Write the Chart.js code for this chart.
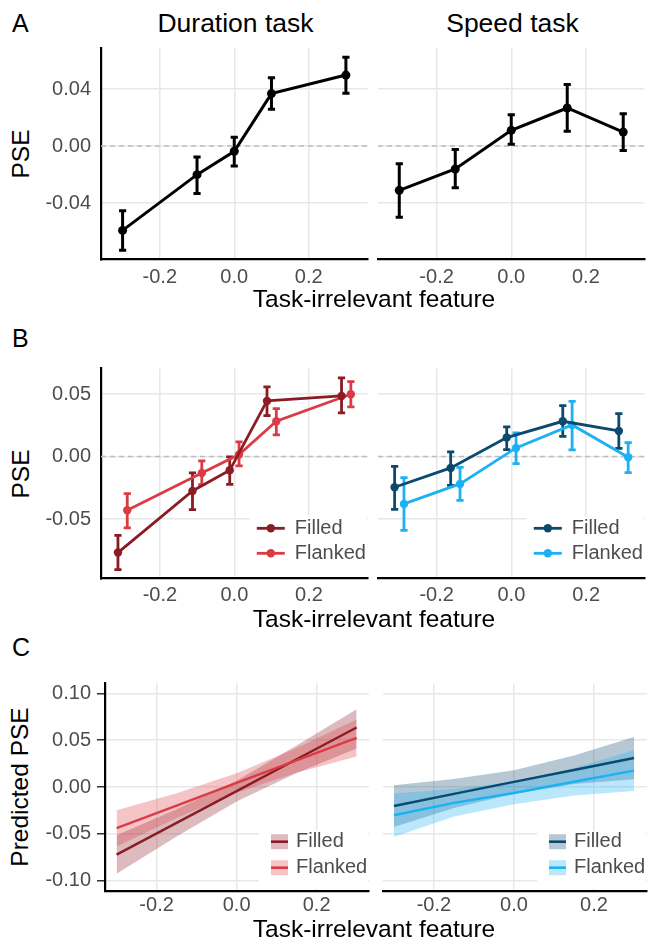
<!DOCTYPE html>
<html lang="en">
<head>
<meta charset="UTF-8">
<title>PSE by task-irrelevant feature</title>
<script src="https://cdn.jsdelivr.net/npm/chart.js"></script>
<style>
  body { margin: 0; background: #fff; font-family: "Liberation Sans", Arial, sans-serif; }
  #fig { position: relative; width: 649px; height: 942px; background: #fff; overflow: hidden; }
  #fig canvas { position: absolute; }
  .lbl { position: absolute; white-space: nowrap; line-height: 1; color: #000; }
  .panel { font-size: 25px; }
  .strip { font-size: 26.5px; transform: translateX(-50%); }
  .xtitle { font-size: 24.5px; transform: translateX(-50%); }
  .ytitle { font-size: 24.5px; transform: translate(-50%, -50%) rotate(-90deg); }
</style>
</head>
<body>
<div id="fig">
  <div class="lbl panel" style="left:12px;top:11px">A</div>
  <div class="lbl strip" style="left:235.5px;top:9.6px">Duration task</div>
  <div class="lbl strip" style="left:512.5px;top:9.6px">Speed task</div>
  <div class="lbl ytitle" style="left:20.5px;top:153.5px">PSE</div>
  <canvas id="a1" width="372" height="260" style="left:0;top:40px"></canvas>
  <canvas id="a2" width="277" height="260" style="left:372px;top:40px"></canvas>
  <div class="lbl xtitle" style="left:374px;top:287.3px">Task-irrelevant feature</div>

  <div class="lbl panel" style="left:12px;top:326px">B</div>
  <div class="lbl ytitle" style="left:20.5px;top:473.5px">PSE</div>
  <canvas id="b1" width="372" height="260" style="left:0;top:360px"></canvas>
  <canvas id="b2" width="277" height="260" style="left:372px;top:360px"></canvas>
  <div class="lbl xtitle" style="left:374px;top:607.3px">Task-irrelevant feature</div>

  <div class="lbl panel" style="left:12px;top:635px">C</div>
  <div class="lbl ytitle" style="left:20px;top:787px">Predicted PSE</div>
  <canvas id="c1" width="372" height="260" style="left:0;top:675px"></canvas>
  <canvas id="c2" width="277" height="260" style="left:372px;top:675px"></canvas>
  <div class="lbl xtitle" style="left:374px;top:917.3px">Task-irrelevant feature</div>
</div>

<script>
// ---- data ----
const groupNames = ['Filled', 'Flanked'];
const durLevels = [-0.3, -0.1, 0.0, 0.1, 0.3];
const spdLevels = [-0.3, -0.15, 0.0, 0.15, 0.3];
const dodge = 0.0125;

// A: pooled PSE, with error bar ends
const durPSE   = [-0.0592, -0.0201, -0.0037, 0.0368, 0.0498];
const durPSElo = [-0.0732, -0.0334, -0.0140, 0.0258, 0.0370];
const durPSEhi = [-0.0454, -0.0077, 0.0061, 0.0480, 0.0623];
const spdPSE   = [-0.0311, -0.0161, 0.0110, 0.0267, 0.0098];
const spdPSElo = [-0.0500, -0.0292, 0.0012, 0.0103, -0.0032];
const spdPSEhi = [-0.0124, -0.0025, 0.0220, 0.0431, 0.0227];

// B: PSE split by filled / flanked
const durFilled    = [-0.0768, -0.0275, -0.0110, 0.0445, 0.0485];
const durFilledLo  = [-0.0904, -0.0424, -0.0222, 0.0328, 0.0349];
const durFilledHi  = [-0.0630, -0.0131, -0.0003, 0.0557, 0.0629];
const durFlanked   = [-0.0430, -0.0131, 0.0016, 0.0282, 0.0498];
const durFlankedLo = [-0.0571, -0.0224, -0.0075, 0.0173, 0.0397];
const durFlankedHi = [-0.0296, -0.0035, 0.0117, 0.0384, 0.0600];
const spdFilled    = [-0.0246, -0.0091, 0.0152, 0.0282, 0.0205];
const spdFilledLo  = [-0.0422, -0.0230, 0.0056, 0.0162, 0.0066];
const spdFilledHi  = [-0.0078, 0.0037, 0.0237, 0.0408, 0.0344];
const spdFlanked   = [-0.0379, -0.0219, 0.0069, 0.0253, -0.0006];
const spdFlankedLo = [-0.0590, -0.0350, -0.0056, 0.0053, -0.0128];
const spdFlankedHi = [-0.0168, -0.0086, 0.0189, 0.0442, 0.0112];

// C: model predictions with confidence ribbons
const predLevels = [-0.3, -0.15, 0.0, 0.15, 0.3];
const durFilledFit  = [-0.0722, -0.0383, -0.0044, 0.0296, 0.0635];
const durFilledUp   = [-0.0516, -0.0238, 0.0066, 0.0442, 0.0830];
const durFilledLow  = [-0.0925, -0.0529, -0.0154, 0.0150, 0.0410];
const durFlankedFit = [-0.0438, -0.0198, 0.0043, 0.0284, 0.0524];
const durFlankedUp  = [-0.0249, -0.0066, 0.0148, 0.0417, 0.0720];
const durFlankedLow = [-0.0634, -0.0331, -0.0062, 0.0151, 0.0325];
const spdFilledFit  = [-0.0203, -0.0074, 0.0054, 0.0182, 0.0310];
const spdFilledUp   = [0.0018, 0.0085, 0.0180, 0.0335, 0.0534];
const spdFilledLow  = [-0.0427, -0.0225, -0.0072, 0.0032, 0.0082];
const spdFlankedFit = [-0.0302, -0.0169, -0.0064, 0.0056, 0.0175];
const spdFlankedUp  = [-0.0070, -0.0022, 0.0056, 0.0204, 0.0392];
const spdFlankedLow = [-0.0534, -0.0316, -0.0184, -0.0092, -0.0043];

// ticks
const xTicks  = [-0.2, 0.0, 0.2];
const yTicksA = [-0.04, 0.00, 0.04];
const yTicksB = [-0.05, 0.00, 0.05];
const yTicksC = [-0.10, -0.05, 0.00, 0.05, 0.10];

// ---- styling ----
const FONT = '"Liberation Sans", Arial, sans-serif';
const TICK_GREY = '#4d4d4d';
const GRID = '#e8e8e8';
const redDark = '#8b1c24', redLight = '#db3b45';
const blueDark = '#0b4a6e', blueLight = '#1cb1f5';
const redDarkRib = 'rgba(139,28,36,0.3)', redLightRib = 'rgba(219,59,69,0.3)';
const blueDarkRib = 'rgba(11,74,110,0.3)', blueLightRib = 'rgba(28,177,245,0.3)';

Chart.defaults.font.family = FONT;
Chart.defaults.animation = false;

function pts(xs, ys, shift) {
    return xs.map((x, i) => ({ x: x + (shift || 0), y: ys[i] }));
}

const panelCfg = {};

// zero line, error bars and legend
const extras = {
    id: 'extras',
    beforeDatasetsDraw(chart) {
        const cfg = panelCfg[chart.canvas.id];
        const ctx = chart.ctx, a = chart.chartArea, y = chart.scales.y;
        ctx.save();
        if (cfg.zero) {
            const y0 = y.getPixelForValue(0);
            ctx.strokeStyle = '#bdbdbd';
            ctx.lineWidth = 1.4;
            ctx.setLineDash([5, 4]);
            ctx.beginPath();
            ctx.moveTo(a.left, y0);
            ctx.lineTo(a.right, y0);
            ctx.stroke();
            ctx.setLineDash([]);
        }
        chart.data.datasets.forEach((ds, k) => {
            if (!ds.errLo) return;
            const meta = chart.getDatasetMeta(k);
            ctx.strokeStyle = ds.borderColor;
            ctx.lineWidth = ds.errWidth;
            meta.data.forEach((pt, i) => {
                const lo = y.getPixelForValue(ds.errLo[i]);
                const hi = y.getPixelForValue(ds.errHi[i]);
                ctx.beginPath();
                ctx.moveTo(pt.x, lo); ctx.lineTo(pt.x, hi);
                ctx.moveTo(pt.x - ds.errCap, lo); ctx.lineTo(pt.x + ds.errCap, lo);
                ctx.moveTo(pt.x - ds.errCap, hi); ctx.lineTo(pt.x + ds.errCap, hi);
                ctx.stroke();
            });
        });
        ctx.restore();
    },
    afterDatasetsDraw(chart) {
        const lg = panelCfg[chart.canvas.id].legend;
        if (!lg) return;
        const ctx = chart.ctx, a = chart.chartArea;
        ctx.save();
        ctx.fillStyle = '#fff';
        ctx.fillRect(a.right - lg.boxW, a.bottom - lg.boxH, lg.boxW - 1, lg.boxH - 2);
        const tx = a.right - lg.textFromRight;
        chart.data.datasets.filter(d => d.legendKey).forEach((ds, k) => {
            const ry = a.bottom - lg.rows[k];
            if (lg.kind === 'point') {
                ctx.strokeStyle = ds.borderColor;
                ctx.lineWidth = ds.borderWidth;
                ctx.beginPath();
                ctx.moveTo(tx - 38, ry); ctx.lineTo(tx - 10, ry);
                ctx.stroke();
                ctx.fillStyle = ds.borderColor;
                ctx.beginPath();
                ctx.arc(tx - 24, ry, ds.pointRadius, 0, 2 * Math.PI);
                ctx.fill();
            } else {
                ctx.fillStyle = ds.ribbonColor;
                ctx.fillRect(tx - 25, ry - 7.5, 17, 15);
                ctx.strokeStyle = ds.borderColor;
                ctx.lineWidth = 2.6;
                ctx.beginPath();
                ctx.moveTo(tx - 25, ry); ctx.lineTo(tx - 8, ry);
                ctx.stroke();
            }
            ctx.fillStyle = TICK_GREY;
            ctx.font = '20px ' + FONT;
            ctx.textBaseline = 'middle';
            ctx.textAlign = 'left';
            ctx.fillText(ds.label, tx, ry);
        });
        ctx.restore();
    }
};

function makeScales(c) {
    return {
        x: {
            type: 'linear', min: c.xr[0], max: c.xr[1],
            afterBuildTicks: s => { s.ticks = xTicks.map(v => ({ value: v })); },
            afterFit: s => { s.height = c.xh; s.paddingLeft = 0; s.paddingRight = 0; },
            grid: { color: GRID, lineWidth: 1.5, drawTicks: false },
            border: { color: '#000', width: 2.2 },
            ticks: { color: TICK_GREY, font: { size: 20 }, padding: c.xpad, maxRotation: 0, autoSkip: false,
                     callback: v => v.toFixed(1) }
        },
        y: {
            min: c.yr[0], max: c.yr[1],
            afterBuildTicks: s => { s.ticks = c.yt.map(v => ({ value: v })); },
            afterFit: s => { s.width = c.yw; s.paddingTop = 0; s.paddingBottom = 0; },
            grid: { color: GRID, lineWidth: 1.5, drawTicks: !!c.tickLen, tickLength: c.tickLen || 0,
                    tickColor: '#333', tickWidth: 1.5 },
            border: { display: c.yAxis, color: '#000', width: 2.2 },
            ticks: { display: c.yAxis, color: TICK_GREY, font: { size: 20 }, padding: c.ypad,
                     callback: v => v.toFixed(2) }
        }
    };
}

function buildPanel(id, c, datasets) {
    panelCfg[id] = c;
    return new Chart(document.getElementById(id), {
        type: 'line',
        data: { datasets: datasets },
        options: {
            responsive: false,
            events: [],
            layout: { padding: { left: c.padL, right: c.padR, top: c.padT, bottom: 0 } },
            scales: makeScales(c),
            plugins: { legend: { display: false }, tooltip: { enabled: false } }
        },
        plugins: [extras]
    });
}

function pointSeries(label, xs, ys, lo, hi, color, lw, r, shift) {
    return {
        label: label, legendKey: true,
        data: pts(xs, ys, shift), errLo: lo, errHi: hi,
        borderColor: color, backgroundColor: color, borderWidth: lw,
        pointRadius: r, pointBorderWidth: 0, pointHoverRadius: 0,
        tension: 0, fill: false, errWidth: lw, errCap: 3.6
    };
}

function ribbonSeries(label, xs, fit, up, low, color, rib) {
    return [
        { data: pts(xs, up), borderWidth: 0, borderColor: 'rgba(0,0,0,0)', pointRadius: 0, fill: false, order: 10 },
        { data: pts(xs, low), borderWidth: 0, borderColor: 'rgba(0,0,0,0)', pointRadius: 0,
          fill: '-1', backgroundColor: rib, order: 10 },
        { label: label, legendKey: true, ribbonColor: rib, data: pts(xs, fit), borderColor: color,
          borderWidth: 2.4, pointRadius: 0, fill: false, tension: 0, order: 2 }
    ];
}

// ---- row A ----
const rowA = { yr: [-0.0795, 0.0688], yt: yTicksA, padT: 8, xh: 40.7, xpad: 6, zero: true };
buildPanel('a1', Object.assign({}, rowA, { xr: [-0.358, 0.358], yw: 101, padL: 0, padR: 2, yAxis: true, ypad: 10 }),
    [pointSeries('PSE', durLevels, durPSE, durPSElo, durPSEhi, '#000', 3, 4.5)]);
buildPanel('a2', Object.assign({}, rowA, { xr: [-0.357, 0.357], yw: 0, padL: 6, padR: 2, yAxis: false }),
    [pointSeries('PSE', spdLevels, spdPSE, spdPSElo, spdPSEhi, '#000', 3, 4.5)]);

// ---- row B ----
const rowB = { yr: [-0.0974, 0.0706], yt: yTicksB, padT: 8.3, xh: 41.7, xpad: 5, zero: true,
               legend: { kind: 'point', textFromRight: 73, rows: [50, 25], boxW: 118, boxH: 62 } };
buildPanel('b1', Object.assign({}, rowB, { xr: [-0.358, 0.358], yw: 101, padL: 0, padR: 2, yAxis: true, ypad: 10 }), [
    pointSeries(groupNames[0], durLevels, durFilled, durFilledLo, durFilledHi, redDark, 2.8, 4.2, -dodge),
    pointSeries(groupNames[1], durLevels, durFlanked, durFlankedLo, durFlankedHi, redLight, 2.8, 4.2, dodge)
]);
buildPanel('b2', Object.assign({}, rowB, { xr: [-0.357, 0.357], yw: 0, padL: 6, padR: 2, yAxis: false }), [
    pointSeries(groupNames[0], spdLevels, spdFilled, spdFilledLo, spdFilledHi, blueDark, 2.8, 4.2, -dodge),
    pointSeries(groupNames[1], spdLevels, spdFlanked, spdFlankedLo, spdFlankedHi, blueLight, 2.8, 4.2, dodge)
]);

// ---- row C ----
const rowC = { yr: [-0.1107, 0.1107], yt: yTicksC, padT: 8.3, xh: 44.3, xpad: 3, zero: false,
               legend: { kind: 'ribbon', textFromRight: 73, rows: [49, 23], boxW: 110, boxH: 60 } };
const c1Sets = ribbonSeries(groupNames[0], predLevels, durFilledFit, durFilledUp, durFilledLow, redDark, redDarkRib)
    .concat(ribbonSeries(groupNames[1], predLevels, durFlankedFit, durFlankedUp, durFlankedLow, redLight, redLightRib));
c1Sets[3].order = 9; c1Sets[4].order = 9; c1Sets[5].order = 1;
buildPanel('c1', Object.assign({}, rowC, { xr: [-0.329, 0.331], yw: 105, padL: 0, padR: 3, yAxis: true, ypad: 6, tickLen: 8 }), c1Sets);

const c2Sets = ribbonSeries(groupNames[0], predLevels, spdFilledFit, spdFilledUp, spdFilledLow, blueDark, blueDarkRib)
    .concat(ribbonSeries(groupNames[1], predLevels, spdFlankedFit, spdFlankedUp, spdFlankedLow, blueLight, blueLightRib));
c2Sets[3].order = 9; c2Sets[4].order = 9; c2Sets[5].order = 1;
buildPanel('c2', Object.assign({}, rowC, { xr: [-0.328, 0.3325], yw: 0, padL: 10.7, padR: 2, yAxis: false }), c2Sets);
</script>
</body>
</html>
